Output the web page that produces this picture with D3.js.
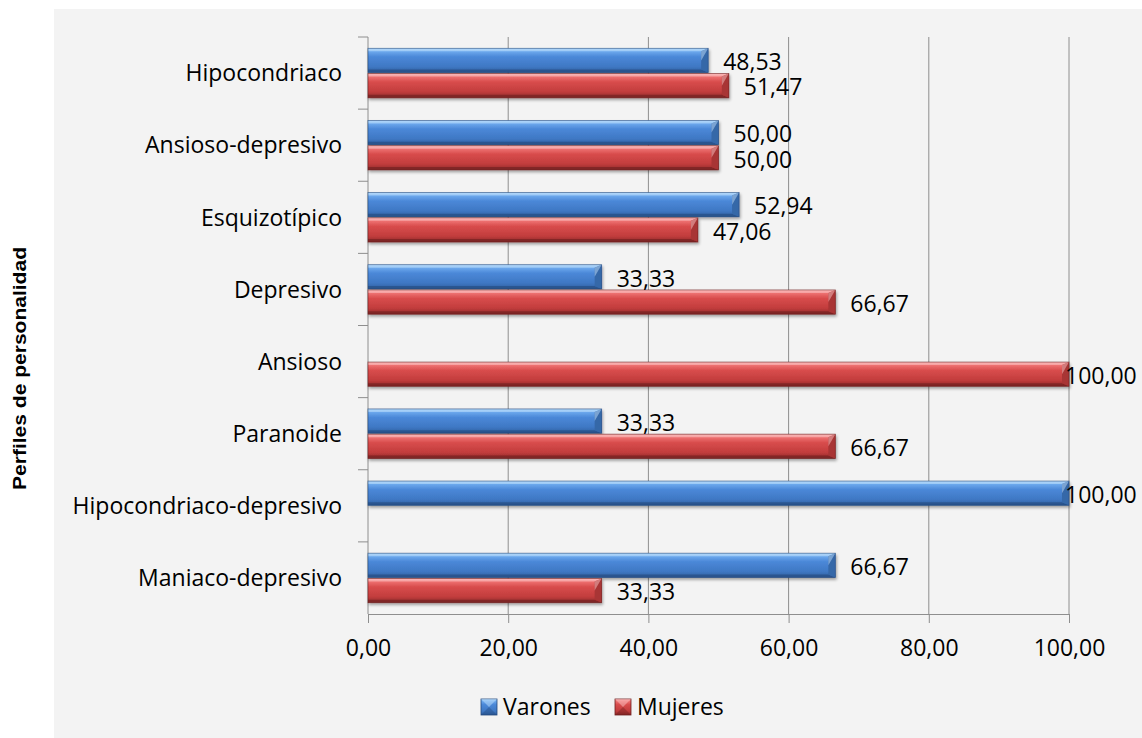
<!DOCTYPE html>
<html>
<head>
<meta charset="utf-8">
<script src="https://cdn.jsdelivr.net/npm/d3@7"></script>
<style>
  html, body { margin: 0; padding: 0; background: #ffffff; }
  svg { display: block; }
  .lbl { font-family: "Open Sans", "Noto Sans", sans-serif; fill: #000; }
</style>
</head>
<body>
<svg id="chart" width="1142" height="738"></svg>
<script>
// Perfiles de personalidad por sexo (%)
const categories = [
  "Hipocondriaco",
  "Ansioso-depresivo",
  "Esquizotípico",
  "Depresivo",
  "Ansioso",
  "Paranoide",
  "Hipocondriaco-depresivo",
  "Maniaco-depresivo"
];
const varones = [48.53, 50.00, 52.94, 33.33, 0, 33.33, 100.00, 66.67];
const mujeres = [51.47, 50.00, 47.06, 66.67, 100.00, 66.67, 0, 33.33];
const seriesNames = ["Varones", "Mujeres"];
const xTicks = [0, 20, 40, 60, 80, 100];
const axisTitle = "Perfiles de personalidad";

const fmt = v => v.toFixed(2).replace(".", ",");
const FS = "23px";

const svg = d3.select("#chart");

// chart area background
svg.append("rect")
  .attr("x", 54).attr("y", 9)
  .attr("width", 1142 - 54).attr("height", 738 - 9)
  .attr("fill", "#f3f3f3");

const plot = { left: 368, right: 1069, top: 37, bottom: 614 };

const x = d3.scaleLinear().domain([0, 100]).range([plot.left, plot.right]);
const y = d3.scaleBand().domain(categories)
  .range([plot.top, plot.bottom]).paddingInner(0.3).paddingOuter(0.15);
const ySeries = d3.scaleBand().domain(seriesNames).range([0, y.bandwidth()]);

// bevel gradients
const defs = svg.append("defs");
const palettes = {
  Varones: { stops: ["#a4d0f8", "#6eaaee", "#4b88d8", "#3f78c4", "#2f5f9f"], dark: "#24497d", light: "#bfe0fc", side: "#3567a8" },
  Mujeres: { stops: ["#f8a8a8", "#ef7373", "#d84c4c", "#c23d3d", "#8f2a2a"], dark: "#6e1f1f", light: "#fcc4c4", side: "#a83434" }
};
Object.entries(palettes).forEach(([name, p]) => {
  const g = defs.append("linearGradient").attr("id", "grad-" + name)
    .attr("x1", 0).attr("y1", 0).attr("x2", 0).attr("y2", 1);
  [0, 0.12, 0.35, 0.75, 1].forEach((o, i) =>
    g.append("stop").attr("offset", o).attr("stop-color", p.stops[i]));
});
const shadow = defs.append("filter").attr("id", "shadow")
  .attr("x", "-5%").attr("y", "-20%").attr("width", "110%").attr("height", "160%");
shadow.append("feGaussianBlur").attr("in", "SourceAlpha").attr("stdDeviation", 1.6);
shadow.append("feOffset").attr("dx", 1).attr("dy", 2).attr("result", "b");
shadow.append("feComponentTransfer").append("feFuncA").attr("type", "linear").attr("slope", 0.35);
const m = shadow.append("feMerge");
m.append("feMergeNode");
m.append("feMergeNode").attr("in", "SourceGraphic");

// vertical gridlines
svg.append("g").selectAll("line").data(xTicks.slice(1)).join("line")
  .attr("x1", d => x(d)).attr("x2", d => x(d))
  .attr("y1", plot.top).attr("y2", plot.bottom)
  .attr("stroke", "#8e8e8e").attr("stroke-width", 1);

// x axis
const xAxis = svg.append("g").attr("transform", `translate(0,${plot.bottom})`)
  .call(d3.axisBottom(x).tickValues(xTicks).tickFormat(fmt).tickSizeInner(9).tickSizeOuter(0).tickPadding(17));
xAxis.select(".domain").attr("stroke", "#8e8e8e");
xAxis.selectAll(".tick line").attr("stroke", "#8e8e8e");
xAxis.selectAll("text").attr("class", "lbl").style("font-size", FS)
  .attr("font-family", null).attr("fill", "#000");

// y axis with ticks at band boundaries
const yAxisG = svg.append("g");
yAxisG.append("line").attr("x1", plot.left).attr("x2", plot.left)
  .attr("y1", plot.top).attr("y2", plot.bottom).attr("stroke", "#8e8e8e");
const bounds = d3.range(categories.length).map(i => plot.top + i * y.step());
yAxisG.selectAll("line.tk").data(bounds).join("line").attr("class", "tk")
  .attr("x1", plot.left - 10).attr("x2", plot.left)
  .attr("y1", d => d).attr("y2", d => d).attr("stroke", "#8e8e8e");
yAxisG.selectAll("text").data(categories).join("text")
  .attr("class", "lbl").style("font-size", FS)
  .attr("x", plot.left - 26)
  .attr("y", d => y(d) + y.bandwidth() / 2)
  .attr("dy", "0.36em").attr("text-anchor", "end")
  .text(d => d);

// bars
const rows = [];
categories.forEach((c, i) => {
  rows.push({ cat: c, series: "Varones", value: varones[i] });
  rows.push({ cat: c, series: "Mujeres", value: mujeres[i] });
});
const bars = rows.filter(d => d.value > 0);

const barG = svg.append("g").selectAll("g").data(bars).join("g")
  .attr("filter", "url(#shadow)");
const bev = 7;
barG.each(function (d) {
  const g = d3.select(this);
  const p = palettes[d.series];
  const x0 = x(0), x1 = x(d.value);
  const y0 = y(d.cat) + ySeries(d.series) + 0.5;
  const h = ySeries.bandwidth() - 1;
  g.append("rect").attr("x", x0).attr("y", y0).attr("width", x1 - x0).attr("height", h)
    .attr("fill", `url(#grad-${d.series})`);
  // top highlight
  g.append("polygon")
    .attr("points", [[x0, y0], [x1, y0], [x1 - bev, y0 + 3], [x0, y0 + 3]].join(" "))
    .attr("fill", p.light).attr("opacity", 0.55);
  // bottom edge
  g.append("polygon")
    .attr("points", [[x0, y0 + h], [x1, y0 + h], [x1 - bev, y0 + h - 3], [x0, y0 + h - 3]].join(" "))
    .attr("fill", p.dark).attr("opacity", 0.6);
  // right end facets
  g.append("polygon")
    .attr("points", [[x1, y0], [x1, y0 + h], [x1 - bev, y0 + h - 3], [x1 - bev, y0 + 3]].join(" "))
    .attr("fill", p.side);
  g.append("polygon")
    .attr("points", [[x1, y0], [x1 - bev, y0 + 3], [x1 - bev, y0 + h / 2]].join(" "))
    .attr("fill", p.light).attr("opacity", 0.5);
  g.append("rect").attr("x", x0).attr("y", y0).attr("width", x1 - x0).attr("height", h)
    .attr("fill", "none").attr("stroke", p.dark).attr("stroke-width", 0.8).attr("opacity", 0.7);
});

// value labels
svg.append("g").selectAll("text").data(bars).join("text")
  .attr("class", "lbl").style("font-size", FS)
  .attr("x", d => Math.min(x(d.value) + 15, plot.right - 4))
  .attr("y", d => y(d.cat) + ySeries(d.series) + ySeries.bandwidth() / 2 + 1.5)
  .attr("dy", "0.36em")
  .text(d => fmt(d.value));

// axis title
svg.append("text")
  .attr("transform", `translate(26,${(plot.top + plot.bottom) / 2 + 43}) rotate(-90)`)
  .attr("text-anchor", "middle")
  .attr("textLength", 243).attr("lengthAdjust", "spacingAndGlyphs")
  .style("font-family", "'Liberation Sans', Arial, sans-serif")
  .style("font-weight", "bold").style("font-size", "19px")
  .text(axisTitle);

// legend
const legend = svg.append("g").attr("transform", "translate(481,699)");
const legItems = [{ name: "Varones", x: 0 }, { name: "Mujeres", x: 134 }];
legItems.forEach(it => {
  const g = legend.append("g").attr("transform", `translate(${it.x},0)`);
  const p = palettes[it.name];
  g.append("rect").attr("width", 16).attr("height", 16).attr("fill", `url(#grad-${it.name})`)
    .attr("stroke", p.dark).attr("stroke-width", 0.8);
  g.append("polygon").attr("points", "0,0 16,0 8,8").attr("fill", p.light).attr("opacity", 0.5);
  g.append("polygon").attr("points", "0,16 16,16 8,8").attr("fill", p.dark).attr("opacity", 0.4);
  g.append("text").attr("class", "lbl").style("font-size", FS)
    .attr("x", 22).attr("y", 8).attr("dy", "0.36em").text(it.name);
});
</script>
</body>
</html>
